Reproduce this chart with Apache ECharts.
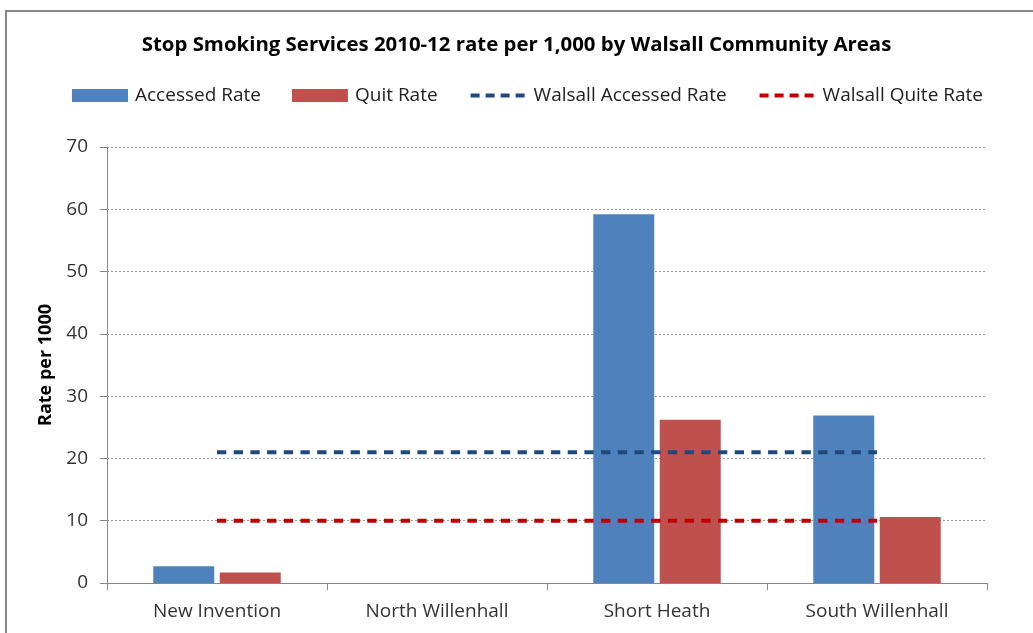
<!DOCTYPE html>
<html>
<head>
<meta charset="utf-8">
<style>
  html, body { margin: 0; padding: 0; background: #ffffff; }
  #chart { width: 1033px; height: 633px; }
</style>
<script src="https://cdn.jsdelivr.net/npm/echarts@6/dist/echarts.min.js"></script>
</head>
<body>
<div id="chart"></div>
<script>
// Community areas and rates per 1,000
const categories = ['New Invention', 'North Willenhall', 'Short Heath', 'South Willenhall'];
const accessedRate = [2.7, null, 59.2, 26.9];
const quitRate = [1.7, null, 26.2, 10.6];
// Borough-wide averages, drawn as flat reference lines
const walsallAccessed = [21.0, 21.0, 21.0, 21.0];
const walsallQuit = [10.0, 10.0, 10.0, 10.0];
const yTicks = { min: 0, max: 70, step: 10 };

const FONT = '"Open Sans", Lato, sans-serif';
const chart = echarts.init(document.getElementById('chart'), null, { renderer: 'canvas' });

const hiddenMarker = { opacity: 0, color: 'rgba(0,0,0,0)', borderWidth: 0 };
const legendDash = { width: 4, type: [9, 6], cap: 'butt' };

chart.setOption({
  backgroundColor: '#ffffff',
  animation: false,
  graphic: [{
    type: 'rect',
    shape: { x: 6, y: 11, width: 1100, height: 700 },
    style: { fill: 'none', stroke: '#878787', lineWidth: 2 },
    silent: true
  }],
  title: {
    text: 'Stop Smoking Services 2010-12 rate per 1,000 by Walsall Community Areas',
    left: 'center',
    top: 30,
    textStyle: { fontFamily: FONT, fontSize: 20.4, fontWeight: 'bold', color: '#000000' }
  },
  legend: {
    top: 81,
    left: 67,
    itemWidth: 56,
    itemHeight: 13,
    itemGap: 31,
    textStyle: { fontFamily: FONT, fontSize: 19, color: '#222222', padding: [0, 0, 0, 2] },
    data: [
      { name: 'Accessed Rate', icon: 'rect' },
      { name: 'Quit Rate', icon: 'rect' },
      { name: 'Walsall Accessed Rate', itemStyle: hiddenMarker, lineStyle: legendDash },
      { name: 'Walsall Quite Rate', itemStyle: hiddenMarker, lineStyle: legendDash }
    ]
  },
  grid: { left: 107, right: 46, top: 147, bottom: 50, containLabel: false },
  xAxis: {
    type: 'category',
    data: categories,
    boundaryGap: true,
    axisLine: { lineStyle: { color: '#878787', width: 1 } },
    axisTick: { show: true, length: 7, alignWithLabel: false, lineStyle: { color: '#878787' } },
    axisLabel: { fontFamily: FONT, fontSize: 19, color: '#333333', margin: 19 }
  },
  yAxis: {
    type: 'value',
    min: yTicks.min,
    max: yTicks.max,
    interval: yTicks.step,
    name: 'Rate per 1000',
    nameLocation: 'middle',
    nameGap: 52,
    nameRotate: 90,
    nameTextStyle: { fontFamily: FONT, fontSize: 18, fontWeight: 'bold', color: '#000000' },
    axisLine: { show: true, lineStyle: { color: '#878787', width: 1 } },
    axisTick: { show: true, length: 7, lineStyle: { color: '#878787' } },
    axisLabel: { fontFamily: FONT, fontSize: 19, color: '#333333', margin: 19 },
    splitLine: { show: true, lineStyle: { color: '#9a9a9a', type: [2, 2], width: 1 } }
  },
  series: [
    {
      name: 'Accessed Rate',
      type: 'bar',
      data: accessedRate,
      barWidth: 61,
      barGap: '9%',
      itemStyle: { color: '#4F81BD' }
    },
    {
      name: 'Quit Rate',
      type: 'bar',
      data: quitRate,
      barWidth: 61,
      barGap: '9%',
      itemStyle: { color: '#C0504D' }
    },
    {
      name: 'Walsall Accessed Rate',
      type: 'line',
      data: walsallAccessed,
      symbol: 'none',
      z: 5,
      lineStyle: { color: '#1F497D', width: 4, type: [9.3, 7.4], cap: 'butt' },
      itemStyle: { color: '#1F497D' }
    },
    {
      name: 'Walsall Quite Rate',
      type: 'line',
      data: walsallQuit,
      symbol: 'none',
      z: 5,
      lineStyle: { color: '#C00000', width: 4, type: [9.3, 7.4], cap: 'butt' },
      itemStyle: { color: '#C00000' }
    }
  ]
});
</script>
</body>
</html>
